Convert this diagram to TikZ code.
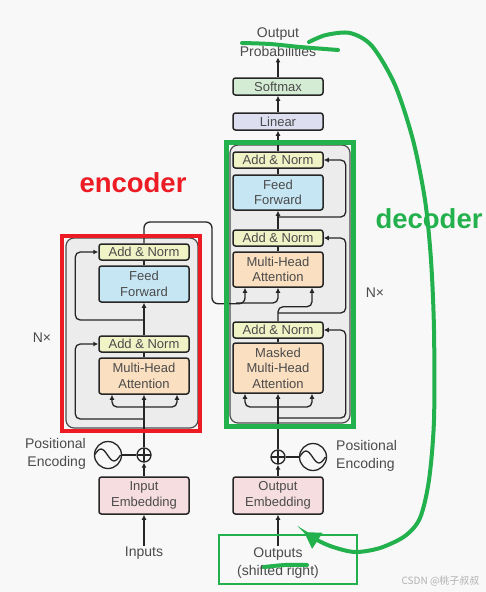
\documentclass[tikz,border=0pt]{standalone}
\usepackage{fontspec}
\setmainfont{Liberation Sans}
\newfontfamily\cjkfont{Noto Sans CJK SC}
\usetikzlibrary{arrows,arrows.meta,calc,positioning}
\definecolor{annorm}{RGB}{240,243,198}
\definecolor{ffblue}{RGB}{198,230,244}
\definecolor{attorange}{RGB}{250,223,192}
\definecolor{embpink}{RGB}{246,221,224}
\definecolor{linpurple}{RGB}{221,223,241}
\definecolor{smgreen}{RGB}{212,236,212}
\definecolor{layergrey}{RGB}{236,236,236}
\definecolor{txtgrey}{RGB}{75,75,75}
\definecolor{penred}{RGB}{237,28,36}
\definecolor{pengreen}{RGB}{34,177,76}
\definecolor{paper}{RGB}{248,248,248}
\tikzset{
    block/.style = {draw=black!85, line width=1.5pt, rounded corners=2.5pt,
        minimum width=90pt, inner sep=0pt, align=center, text=txtgrey,
        font=\fontsize{13}{15.5}\selectfont},
    addnorm/.style = {block, fill=annorm, minimum height=16pt},
    ffbox/.style = {block, fill=ffblue, minimum height=36pt},
    attbox/.style = {block, fill=attorange, minimum height=36pt},
    embbox/.style = {block, fill=embpink, minimum height=37pt},
    headbox/.style = {block, minimum height=17pt},
    plain/.style = {text=txtgrey, inner sep=1pt, font=\fontsize{14}{18.5}\selectfont},
    link/.style = {draw=black!85, line width=1.3pt},
    layer/.style = {draw=black!70, fill=layergrey, line width=1.2pt, rounded corners=8pt},
    addsym/.style = {draw=black!85, circle, line width=1.3pt, minimum size=14pt, inner sep=0pt,
        path picture={\draw[line width=1.3pt] (path picture bounding box.north) -- (path picture bounding box.south)
            (path picture bounding box.west) -- (path picture bounding box.east);}},
    wave/.style = {draw=black!85, circle, line width=1.3pt, minimum size=27pt, inner sep=0pt,
        path picture={\draw[line width=1.3pt] (path picture bounding box.west) sin ++(6.5,-6) cos ++(6.5,6)
            sin ++(6.5,6) cos ++(6.5,-6);}},
    pen/.style = {line width=4pt, line cap=round}
}

\begin{document}
\begin{tikzpicture}[x=1pt, y=-1pt, >={Latex[length=5pt,width=5pt]}]
    \useasboundingbox[fill=paper] (0,0) rectangle (486,592);
    % layer backgrounds
    \draw[layer] (66,238) rectangle (198,428);
    \draw[layer] (230,145) rectangle (350,423);

    % encoder stack
    \node[addnorm] (eAN1) at (144,252) {Add \& Norm};
    \node[ffbox] (eFF) at (144,284) {Feed\\Forward};
    \node[addnorm] (eAN2) at (144,344) {Add \& Norm};
    \node[attbox] (eMHA) at (144,376) {Multi-Head\\Attention};
    \node[embbox] (eEmb) at (144,495.5) {Input\\Embedding};
    \node[plain] (inputs) at (144,553) {Inputs};
    \node[addsym] (ePlus) at (144,455) {};
    \node[wave] (eWave) at (108,455) {};
    \node[plain, align=right, anchor=east] (ePos) at (87,454) {Positional\\Encoding};
    \node[plain] (eN) at (42,338) {N×};

    \draw[link,->] (inputs) -- (eEmb);
    \draw[link,->] (eEmb) -- (ePlus);
    \draw[link] (eWave) -- (ePlus);
    \draw[link,->] (ePlus) -- (eMHA);
    \foreach \dx in {-32,33}{
        \draw[link,->,rounded corners=5pt] (144,407) -| ($(eMHA.south)+(\dx,0)$);
    }
    \draw[link,->,rounded corners=5pt] (144,419) -| ($(eAN2.west)+(-23,0)$) -- (eAN2);
    \draw[link] (eMHA) -- (eAN2);
    \draw[link,->] (eAN2) -- (eFF);
    \draw[link,->,rounded corners=5pt] (144,320) -| ($(eAN1.west)+(-23,0)$) -- (eAN1);
    \draw[link] (eFF) -- (eAN1);

    % decoder stack
    \node[addnorm] (dAN1) at (278,160) {Add \& Norm};
    \node[ffbox, minimum height=35pt] (dFF) at (278,192.5) {Feed\\Forward};
    \node[addnorm] (dAN2) at (278,238) {Add \& Norm};
    \node[attbox, minimum height=35pt] (dMHA) at (278,269.5) {Multi-Head\\Attention};
    \node[addnorm] (dAN3) at (278,330) {Add \& Norm};
    \node[attbox, minimum height=50pt] (dMMHA) at (278,368) {Masked\\Multi-Head\\Attention};
    \node[embbox] (dEmb) at (278,495.5) {Output\\Embedding};
    \node[plain, align=center] (outputs) at (278,563) {Outputs\\(shifted right)};
    \node[addsym] (dPlus) at (278,457) {};
    \node[wave] (dWave) at (313,457) {};
    \node[plain, align=left, anchor=west] (dPos) at (335,456) {Positional\\Encoding};
    \node[plain] (dN) at (375,293) {N×};
    \node[headbox, fill=linpurple] (linear) at (278,121.5) {Linear};
    \node[headbox, fill=smgreen] (softmax) at (278,86.5) {Softmax};
    \node[plain, align=center] (outprob) at (278,42) {Output\\Probabilities};

    \draw[link,->] (outputs) -- (dEmb);
    \draw[link,->] (dEmb) -- (dPlus);
    \draw[link] (dPlus) -- (dWave);
    \draw[link,->] (dPlus) -- (dMMHA);
    \foreach \dx in {-33,34}{
        \draw[link,->,rounded corners=5pt] (278,407) -| ($(dMMHA.south)+(\dx,0)$);
    }
    \draw[link,->,rounded corners=5pt] (278,418) -| ($(dAN3.east)+(22,0)$) -- (dAN3);
    \draw[link] (dMMHA) -- (dAN3);
    \draw[link,->,rounded corners=5pt] (dAN3.north) |- ($(dMHA.south)+(34,19)$) -- ($(dMHA.south)+(34,0)$);
    \draw[link,->,rounded corners=5pt] (278,313) -| ($(dAN2.east)+(22,0)$) -- (dAN2);
    \draw[link] (dMHA) -- (dAN2);
    \draw[link,->] (dAN2) -- (dFF);
    \draw[link,->,rounded corners=5pt] (278,217) -| ($(dAN1.east)+(22,0)$) -- (dAN1);
    \draw[link] (dFF) -- (dAN1);
    \draw[link,->] (dAN1) -- (linear);
    \draw[link,->] (linear) -- (softmax);
    \draw[link,->] (softmax) -- (outprob);

    % encoder output into decoder attention
    \draw[link,->,rounded corners=6pt] (eAN1.north) |- (212,222) |- ($(dMHA.south)+(-33,16)$) -- ($(dMHA.south)+(-33,0)$);
    \draw[link,->,rounded corners=5pt] (236,303) -| (dMHA.south);

    % hand-drawn marks
    \draw[penred, line width=4.5pt] (62,236) rectangle (200,431);
    \draw[pengreen, line width=5pt] (226,142) rectangle (353,426);
    \draw[pengreen, line width=2.2pt] (219,535) rectangle (357,584);
    \node[text=penred, font=\bfseries\fontsize{27.5}{30}\selectfont] (enc) at (133,183) {encoder};
    \node[text=pengreen, font=\bfseries\fontsize{27.5}{30}\selectfont] (dec) at (429,219) {decoder};
    \draw[pengreen, pen] plot[smooth] coordinates {(242,43) (270,44) (300,47) (338,50)};
    \draw[pengreen, pen] plot[smooth] coordinates {(264,567) (285,565) (307,565)};
    \draw[pengreen, pen, -{Triangle[length=16pt,width=18pt]}] plot[smooth] coordinates {(309,42) (326,35) (350,33) (372,46) (395,85) (413,140) (425,200) (431,260) (434,330) (434,420) (429,480) (420,518) (405,536) (380,548) (355,552) (333,547) (317,540) (304,532)};

    \node[text=black!30, font=\cjkfont\fontsize{10}{12}\selectfont, anchor=east] (mark) at (483,581) {CSDN @桃子叔叔};
\end{tikzpicture}
\end{document}
